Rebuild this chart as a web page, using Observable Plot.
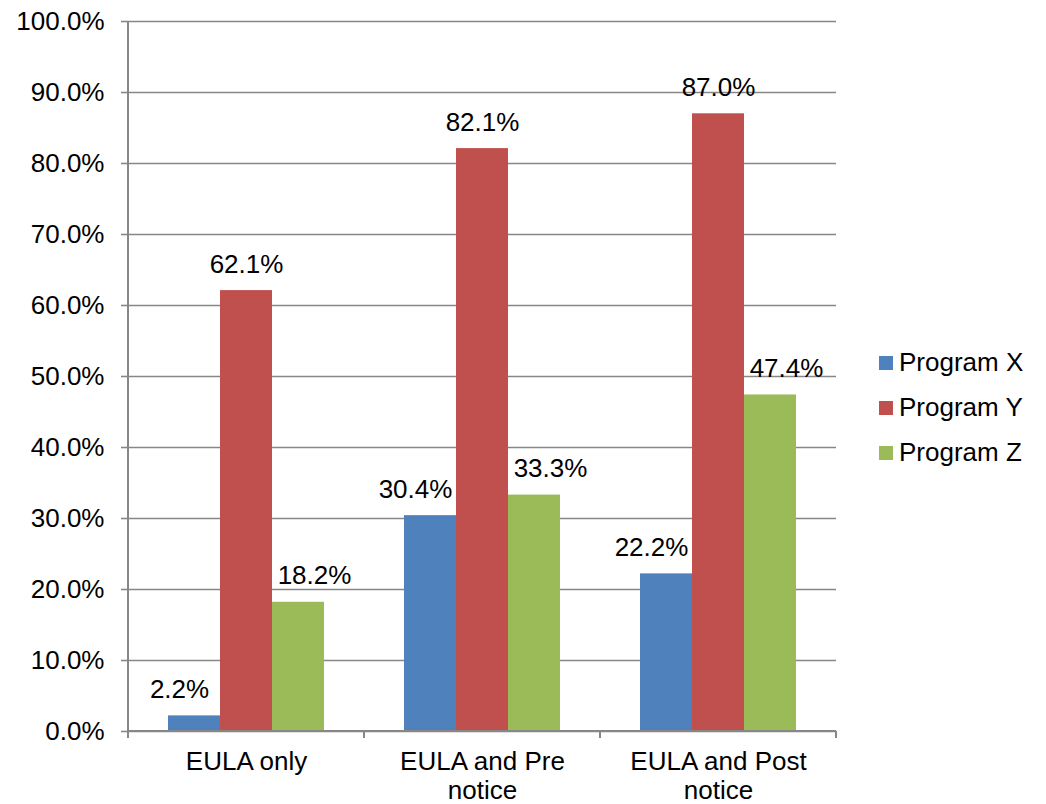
<!DOCTYPE html>
<html>
<head>
<meta charset="utf-8">
<script src="https://cdn.jsdelivr.net/npm/d3@7"></script>
<script src="https://cdn.jsdelivr.net/npm/@observablehq/plot@0.6"></script>
<style>
  html, body { margin: 0; padding: 0; background: #fff; }
  #wrap { position: relative; width: 1046px; height: 804px; font-family: "Liberation Sans", Arial, sans-serif; }
  #legend { position: absolute; left: 879px; top: 340px; }
  .row { display: flex; align-items: center; height: 45px; font-size: 26px; color: #000; }
  .sw { width: 14px; height: 14px; margin-right: 6px; }
</style>
</head>
<body>
<div id="wrap"><div id="legend"></div></div>
<script>
// Share of users per notice condition and program
const categories = ["EULA only", "EULA and Pre notice", "EULA and Post notice"];
const categoryLabels = ["EULA only", "EULA and Pre\nnotice", "EULA and Post\nnotice"];
const programs = ["Program X", "Program Y", "Program Z"];
const colors = ["#4F81BD", "#C0504D", "#9BBB59"];
const programX = [0.022, 0.304, 0.222];
const programY = [0.621, 0.821, 0.870];
const programZ = [0.182, 0.333, 0.474];
const yTicks = [0, 0.1, 0.2, 0.3, 0.4, 0.5, 0.6, 0.7, 0.8, 0.9, 1.0];

const series = [programX, programY, programZ];
const rows = programs.flatMap((p, i) =>
  categories.map((c, j) => ({category: c, program: p, value: series[i][j]}))
);

// horizontal nudge of value labels per series, so neighbours don't collide
const labelDx = [-15, 0, 16];
const pct = d3.format(".1%");
const gray = "#878787";
const lineW = 1.6;

const chart = Plot.plot({
  width: 1046,
  height: 804,
  marginLeft: 127,
  marginRight: 210,
  marginTop: 21,
  marginBottom: 73,
  style: {fontFamily: "'Liberation Sans', Arial, sans-serif", fontSize: "26px", color: "#000", background: "transparent"},
  fx: {domain: categories, padding: 0, label: null},
  x: {domain: programs, paddingInner: 0, paddingOuter: 0.742, axis: null},
  y: {domain: [0, 1], label: null},
  color: {domain: programs, range: colors},
  marks: [
    Plot.gridY(yTicks, {stroke: gray, strokeOpacity: 1, strokeWidth: lineW}),
    Plot.axisY(yTicks, {tickFormat: ".1%", tickSize: 7, tickPadding: 17, stroke: gray, strokeWidth: lineW, label: null, fontSize: 26}),
    Plot.axisFx({
      anchor: "bottom",
      tickSize: 0,
      tickPadding: 19,
      label: null,
      fontSize: 26,
      lineHeight: 1.08,
      tickFormat: (d) => categoryLabels[categories.indexOf(d)]
    }),
    Plot.barY(rows, {fx: "category", x: "program", y: "value", fill: "program"}),
    ...programs.map((p, i) =>
      Plot.text(rows.filter((d) => d.program === p), {
        fx: "category",
        x: "program",
        y: "value",
        text: (d) => pct(d.value),
        lineAnchor: "bottom",
        dy: -18,
        dx: labelDx[i],
        fill: "#000",
        fontSize: 26
      })
    )
  ]
});

// axis lines: vertical value axis and category boundary ticks, placed from Plot's scales
const fx = chart.scale("fx");
const y = chart.scale("y");
const y0 = y.apply(0), y1 = y.apply(1);
const edges = categories.map((c) => fx.apply(c));
edges.push(fx.apply(categories[categories.length - 1]) + fx.bandwidth);
const g = d3.select(chart).append("g").attr("stroke", gray).attr("stroke-width", 2);
g.append("line").attr("x1", edges[0]).attr("x2", edges[0]).attr("y1", y1).attr("y2", y0);
g.append("line").attr("x1", edges[0]).attr("x2", edges[edges.length - 1]).attr("y1", y0).attr("y2", y0);
g.selectAll(".edge").data(edges).join("line")
  .attr("x1", (d) => d).attr("x2", (d) => d)
  .attr("y1", y0).attr("y2", y0 + 7);

document.getElementById("wrap").prepend(chart);

// legend
const legend = d3.select("#legend");
programs.forEach((p, i) => {
  const row = legend.append("div").attr("class", "row");
  row.append("div").attr("class", "sw").style("background", colors[i]);
  row.append("span").text(p);
});
</script>
</body>
</html>
